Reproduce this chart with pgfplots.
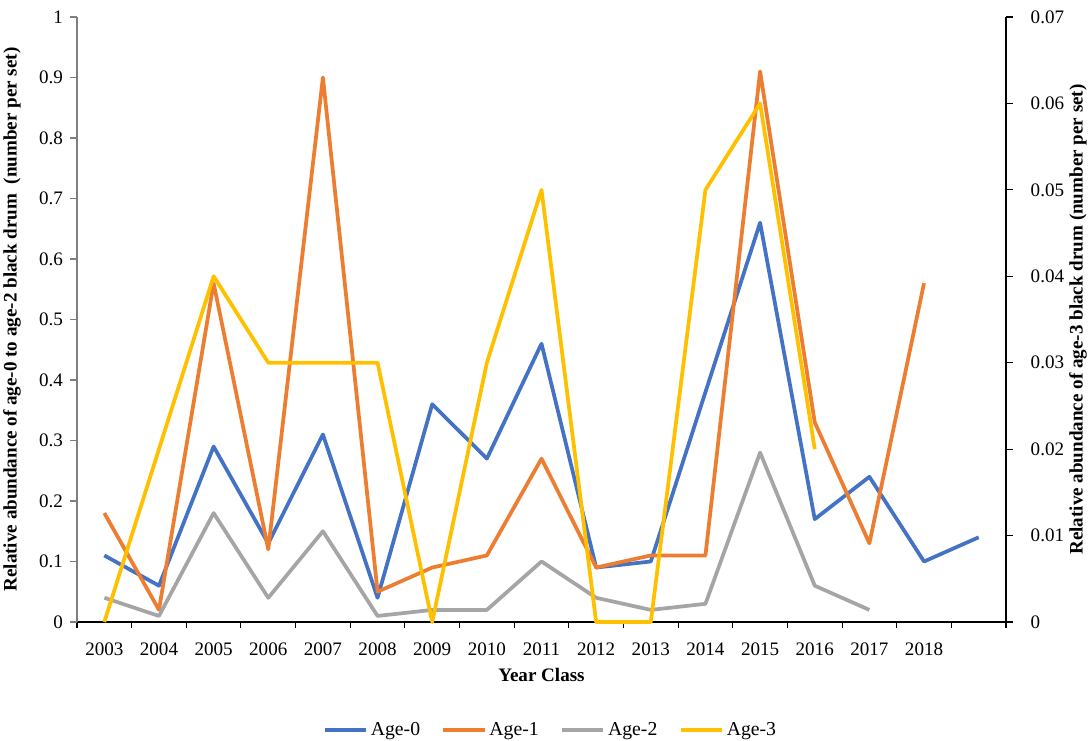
\documentclass[border=0pt]{standalone}
\usepackage{pgfplots}
\pgfplotsset{compat=1.18}
\usepackage{fontspec}
\setmainfont{Liberation Serif}
\definecolor{c0}{HTML}{4472C4}
\definecolor{c1}{HTML}{ED7D31}
\definecolor{c2}{HTML}{A5A5A5}
\definecolor{c3}{HTML}{FFC000}
\definecolor{axgray}{HTML}{7F7F7F}

\pgfplotstableread{
x  a0
0  0.11
1  0.06
2  0.29
3  0.13
4  0.31
5  0.04
6  0.36
7  0.27
8  0.46
9  0.09
10 0.10
11 0.38
12 0.66
13 0.17
14 0.24
15 0.10
16 0.14
}\agezero
\pgfplotstableread{
x  a1
0  0.18
1  0.02
2  0.56
3  0.12
4  0.90
5  0.05
6  0.09
7  0.11
8  0.27
9  0.09
10 0.11
11 0.11
12 0.91
13 0.33
14 0.13
15 0.56
}\ageone
\pgfplotstableread{
x  a2
0  0.04
1  0.01
2  0.18
3  0.04
4  0.15
5  0.01
6  0.02
7  0.02
8  0.10
9  0.04
10 0.02
11 0.03
12 0.28
13 0.06
14 0.02
}\agetwo
\pgfplotstableread{
x  a3
0  0
1  0.02
2  0.04
3  0.03
4  0.03
5  0.03
6  0
7  0.03
8  0.05
9  0
10 0
11 0.05
12 0.06
13 0.02
}\agethree

\begin{document}
\begin{tikzpicture}
\useasboundingbox (0,0) rectangle (818.25pt,555.75pt);
\pgfplotsset{
  common/.style={
    at={(57.75pt,89.25pt)}, anchor=south west,
    scale only axis, width=696.75pt, height=453.75pt,
    xmin=-0.5, xmax=16.5,
    font=\fontsize{14.3pt}{17pt}\selectfont,
    tick align=outside,
    major tick length=5pt,
    clip=false,
  }
}
\begin{axis}[
  common,
  ymin=0, ymax=1,
  axis x line*=bottom, axis y line*=left,
  x axis line style={black, line width=0.8pt},
  y axis line style={axgray, line width=0.8pt},
  ytick={0,0.1,0.2,0.3,0.4,0.5,0.6,0.7,0.8,0.9,1},
  yticklabels={0,0.1,0.2,0.3,0.4,0.5,0.6,0.7,0.8,0.9,1},
  ytick style={axgray, line width=0.8pt},
  yticklabel style={xshift=-2pt},
  xtick={0,...,15},
  xticklabels={2003,2004,2005,2006,2007,2008,2009,2010,2011,2012,2013,2014,2015,2016,2017,2018},
  major x tick style={draw=none},
  minor xtick={-0.5,0.5,...,16.5},
  minor tick length=4.5pt,
  minor x tick style={black, line width=0.8pt},
  xticklabel style={yshift=-7pt},
  xlabel={\bfseries Year Class},
  xlabel style={at={(axis description cs:0.5,0)}, anchor=center, yshift=-39.75pt},
  ylabel={\bfseries Relative abundance of age-0 to age-2 black drum\ \ (number per set)},
  ylabel style={at={(axis description cs:-0.0700,0.5)}, anchor=center},
  legend columns=4,
  legend style={at={(axis description cs:0.51,-0.1785)}, anchor=center, draw=none, fill=none,
    /tikz/every even column/.append style={column sep=14pt},
    font=\fontsize{14.8pt}{17pt}\selectfont},
  legend image code/.code={\draw[#1, line width=3pt] (0pt,0pt) -- (31pt,0pt);},
]
\addplot[c0, line width=2.8pt, line join=round] table[x=x, y=a0] {\agezero};
\addlegendentry{Age-0}
\addplot[c1, line width=2.8pt, line join=round] table[x=x, y=a1] {\ageone};
\addlegendentry{Age-1}
\addplot[c2, line width=2.8pt, line join=round] table[x=x, y=a2] {\agetwo};
\addlegendentry{Age-2}
\addlegendimage{c3}
\addlegendentry{Age-3}
\end{axis}
\begin{axis}[
  common,
  ymin=0, ymax=0.07,
  axis x line=none, axis y line*=right,
  xtick=\empty,
  y axis line style={black, line width=0.8pt},
  ytick={0,0.01,0.02,0.03,0.04,0.05,0.06,0.07},
  yticklabels={0,0.01,0.02,0.03,0.04,0.05,0.06,0.07},
  ytick style={black, line width=0.8pt},
  yticklabel style={xshift=10pt},
  ylabel={\bfseries Relative abundance of age-3 black drum (number per set)},
  ylabel style={at={(axis description cs:1.0775,0.5)}, anchor=center, rotate=0},
]
\addplot[c3, line width=2.8pt, line join=round] table[x=x, y=a3] {\agethree};
\end{axis}
\end{tikzpicture}
\end{document}
